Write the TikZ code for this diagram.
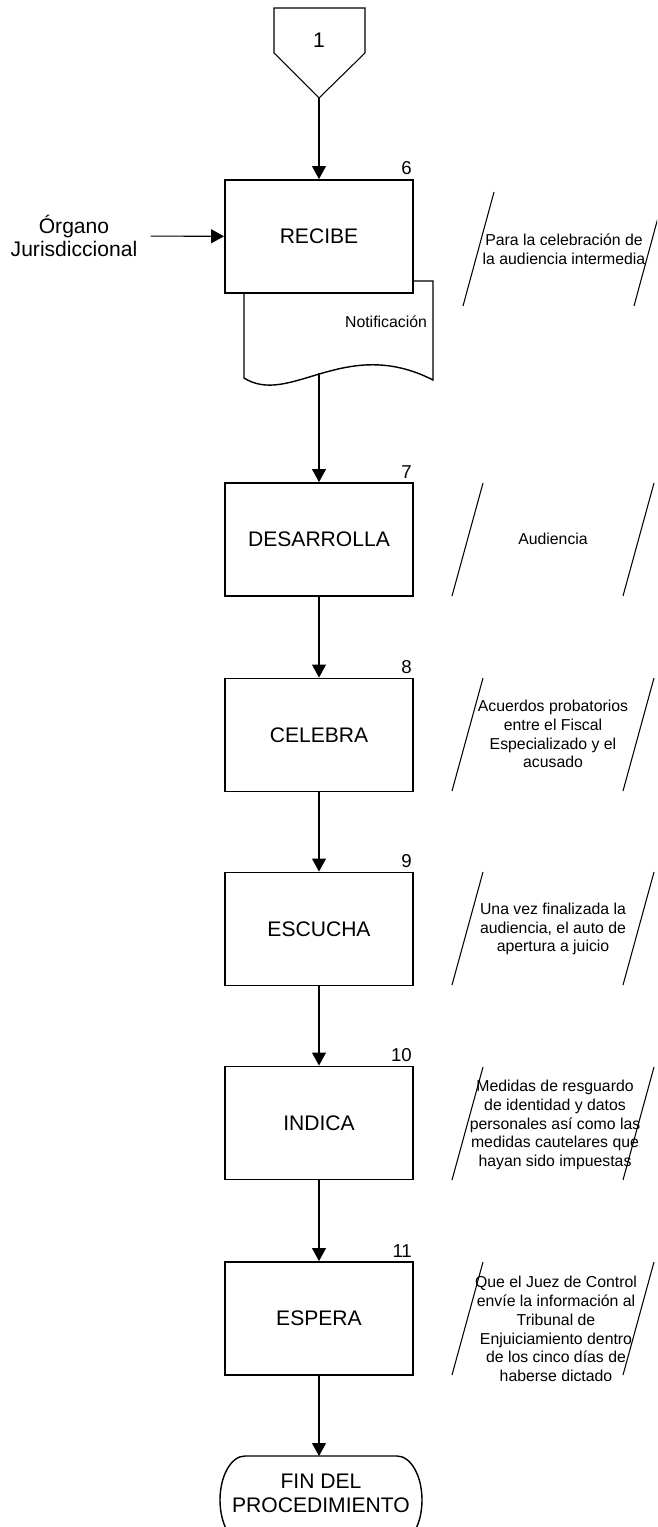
\documentclass[tikz,border=0pt]{standalone}
\usepackage{fontspec}
\setmainfont{Liberation Sans}
\usetikzlibrary{arrows.meta}

\begin{document}
\begin{tikzpicture}[x=.02cm, y=-.02cm,
		caja/.style={draw, line width=1.1pt, fill=white, minimum width=3.76cm, minimum height=2.26cm, font=\fontsize{12}{13.6}\selectfont},
		num/.style={anchor=south east, inner xsep=1pt, inner ysep=2pt, font=\fontsize{10.6}{12}\selectfont},
		nota/.style={align=center, inner sep=0pt, font=\fontsize{9}{10.7}\selectfont},
		flecha/.style={line width=.6pt, -{Triangle[length=.26cm, width=.28cm]}}]
			\path[use as bounding box, clip] (0,0) rectangle (657,1527);
			
			\draw [line width=.6pt] (274,8) -- (365,8) -- (365,53) -- (319,98) -- (274,53) -- cycle;
			\node [font=\fontsize{12}{13.6}\selectfont] (conector) at (319,40) {1};
			\coordinate (conector-punta) at (319,98);
			
			% documento bajo la caja
			\draw [line width=.8pt, fill=white] (244,281) -- (433,281) -- (433,380) .. controls (345,335) and (290,407) .. (244,378) -- cycle;
			\node [font=\fontsize{9}{10.7}\selectfont] (notif) at (386,322) {Notificación};
			\coordinate (notif-sal) at (319,373);
			
			\node [caja] (recibe) at (319,236.5) {RECIBE};
			\node [caja] (desarrolla) at (319,539.5) {DESARROLLA};
			\node [caja] (celebra) at (319,735) {CELEBRA};
			\node [caja] (escucha) at (319,929) {ESCUCHA};
			\node [caja] (indica) at (319,1123) {INDICA};
			\node [caja] (espera) at (319,1318.5) {ESPERA};
			
			\node [num] (n6) at (recibe.north east) {6};
			\node [num] (n7) at (desarrolla.north east) {7};
			\node [num] (n8) at (celebra.north east) {8};
			\node [num] (n9) at (escucha.north east) {9};
			\node [num] (n10) at (indica.north east) {10};
			\node [num] (n11) at (espera.north east) {11};
			
			\node [align=center, inner xsep=.26cm, font=\fontsize{12}{13.6}\selectfont] (organo) at (74,236) {Órgano\\Jurisdiccional};
			
			% terminal
			\draw [line width=.8pt] (245,1456) -- (397,1456) .. controls (411,1456) and (422,1476) .. (422,1500) .. controls (422,1524) and (411,1544) .. (397,1544) -- (245,1544) .. controls (231,1544) and (220,1524) .. (220,1500) .. controls (220,1476) and (231,1456) .. (245,1456) -- cycle;
			\node [align=center, font=\fontsize{12}{13.6}\selectfont] (fin) at (321,1493) {FIN DEL\\PROCEDIMIENTO};
			\coordinate (fin-tope) at (319,1456);
			
			\draw [flecha] (conector-punta) -- (recibe.north);
			\draw [flecha] (organo) -- (recibe);
			\draw [flecha] (notif-sal) -- (desarrolla.north);
			\draw [flecha] (desarrolla) -- (celebra);
			\draw [flecha] (celebra) -- (escucha);
			\draw [flecha] (escucha) -- (indica);
			\draw [flecha] (indica) -- (espera);
			\draw [flecha] (espera.south) -- (fin-tope);
			
			% notas
			\draw [line width=.6pt] (494,192) -- (463,306);
			\draw [line width=.6pt] (665,192) -- (634,306);
			\foreach \y in {483,678,872,1067,1262}{
				\draw [line width=.6pt] (483,\y) -- (452,\y+113);
				\draw [line width=.6pt] (654,\y) -- (623,\y+113);
			}
			
			\node [nota] (nota6) at (564,249) {Para la celebración de\\la audiencia intermedia};
			\node [nota] (nota7) at (553,539) {Audiencia};
			\node [nota] (nota8) at (553,734) {Acuerdos probatorios\\entre el Fiscal\\Especializado y el\\acusado};
			\node [nota] (nota9) at (553,929) {Una vez finalizada la\\audiencia, el auto de\\apertura a juicio};
			\node [nota] (nota10) at (555,1125) {Medidas de resguardo\\de identidad y datos\\personales así como las\\medidas cautelares que\\hayan sido impuestas};
			\node [nota] (nota11) at (556,1329) {Que el Juez de Control\\envíe la información al\\Tribunal de\\Enjuiciamiento dentro\\de los cinco días de\\haberse dictado};
\end{tikzpicture}
\end{document}
